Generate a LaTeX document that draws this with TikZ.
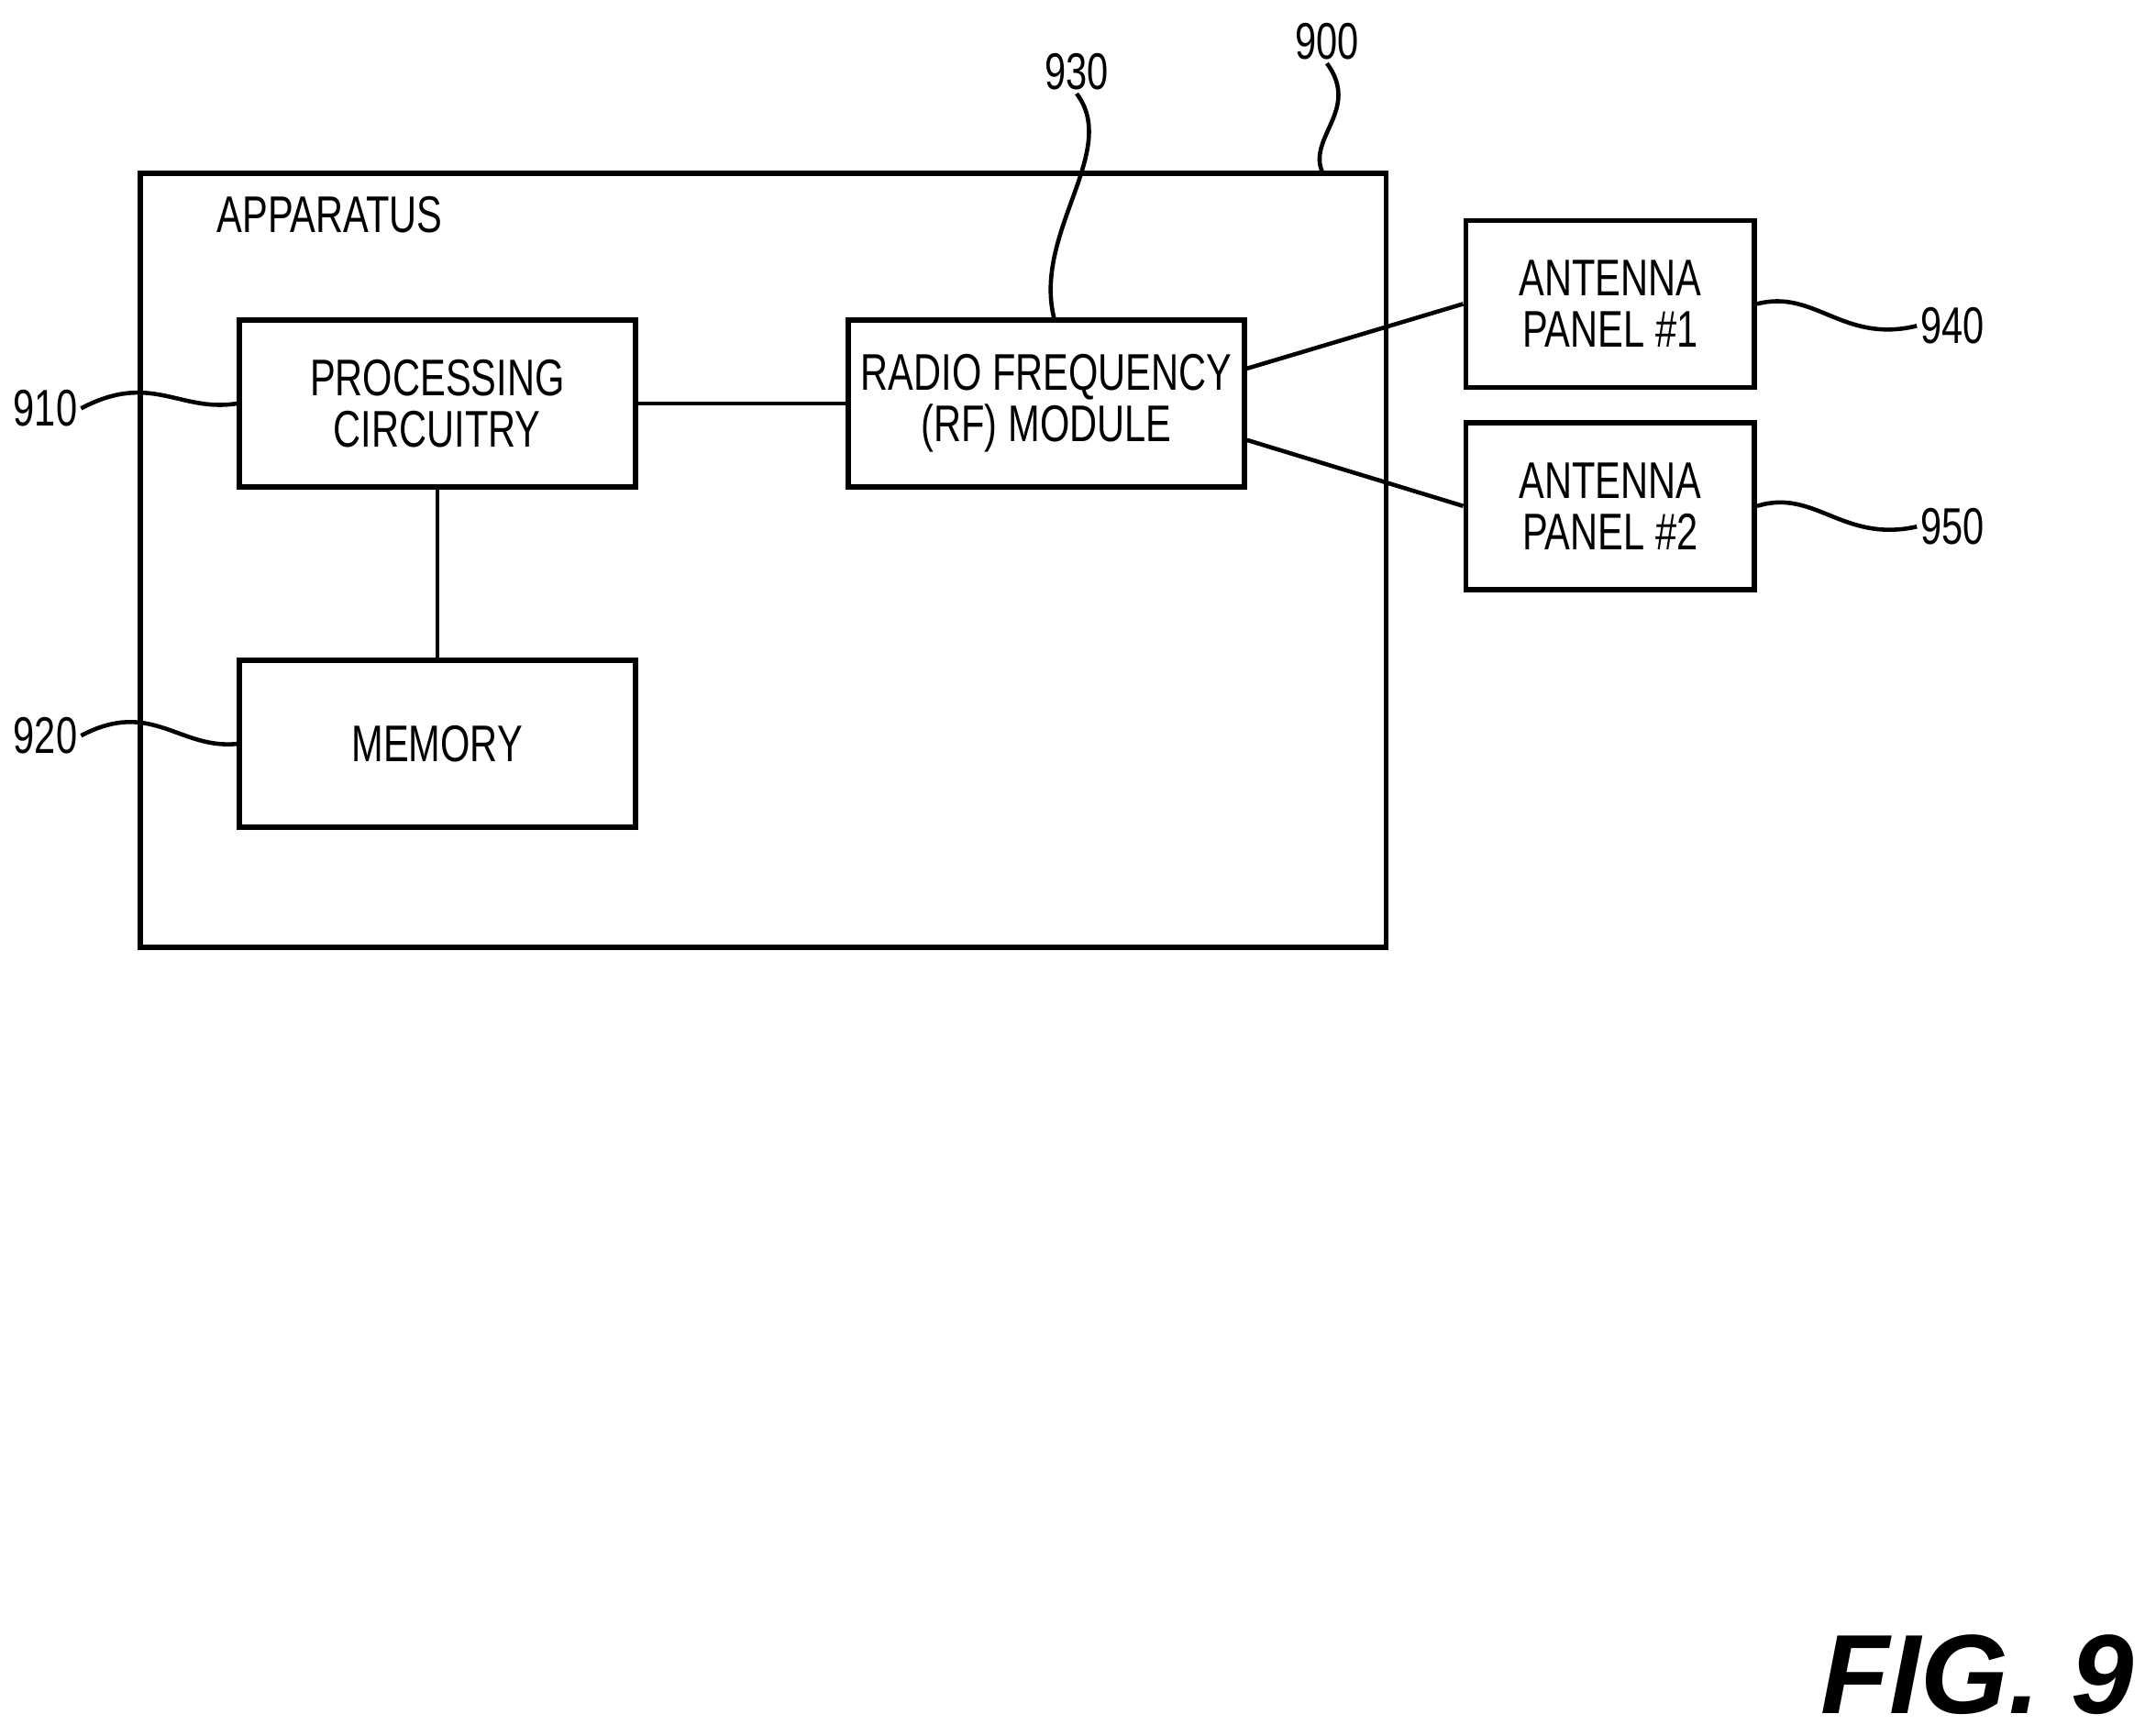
\documentclass[tikz,border=0pt]{standalone}
\usepackage{fontspec}
\setmainfont{Liberation Sans}[FakeStretch=0.74]
\newfontfamily\figfont{Liberation Sans}
\usetikzlibrary{positioning}
\tikzset{
  blk/.style={draw, line width=1.6pt, minimum width=4.32cm, minimum height=1.82cm, align=center, font=\fontsize{16}{16}\selectfont, inner sep=0pt},
  ant/.style={blk, minimum width=3.15cm},
  lbl/.style={font=\fontsize{16}{17}\selectfont, inner sep=1pt},
  lead/.style={line width=1.3pt}
}
\begin{document}
\begin{tikzpicture}[x=0.015cm, y=-0.015cm]
	\useasboundingbox (0,0) rectangle (1568,1262);
	
	\draw[line width=1.6pt] (102,126) rectangle (1008,689);
	\node[lbl, anchor=west] (app) at (155,156) {APPARATUS};
	
	\node[blk] (proc) at (318,293.5) {PROCESSING\\CIRCUITRY};
	\node[blk] (mem) at (318,541) {MEMORY};
	\node[blk] (rf) at (761,293.5) {RADIO FREQUENCY\\(RF) MODULE};
	\node[ant] (ant1) at (1171,221) {ANTENNA\\PANEL \#1};
	\node[ant] (ant2) at (1171,368) {ANTENNA\\PANEL \#2};
	
	\draw[line width=1.3pt] (proc) -- (rf);
	\draw[line width=1.3pt] (proc) -- (mem);
	\draw[line width=1.3pt] (rf.east |- 0,268) -- (ant1.west);
	\draw[line width=1.3pt] (rf.east |- 0,320) -- (ant2.west);
	
	% reference numerals
	\node[lbl] (n900) at (965,30) {900};
	\node[lbl] (n930) at (783,52) {930};
	\node[lbl] (n910) at (33,297) {910};
	\node[lbl] (n920) at (33,535) {920};
	\node[lbl] (n940) at (1420,237) {940};
	\node[lbl] (n950) at (1420,383) {950};
	\coordinate (e900) at (962,126);
	\coordinate (e930) at (767,233);
	
	\draw[lead] (n900.south) .. controls (990,80) and (950,100) .. (e900);
	\draw[lead] (n930.south) .. controls (815,110) and (750,170) .. (e930);
	\draw[lead] (n910.east) .. controls (110,270) and (130,300) .. (proc.west);
	\draw[lead] (n920.east) .. controls (110,508) and (130,545) .. (mem.west);
	\draw[lead] (ant1.east) .. controls (1320,210) and (1340,250) .. (n940.west);
	\draw[lead] (ant2.east) .. controls (1320,355) and (1340,395) .. (n950.west);
	
	\node[font=\figfont\fontsize{35}{38}\selectfont\bfseries\itshape] (fig) at (1438,1218) {FIG. 9};
\end{tikzpicture}
\end{document}
